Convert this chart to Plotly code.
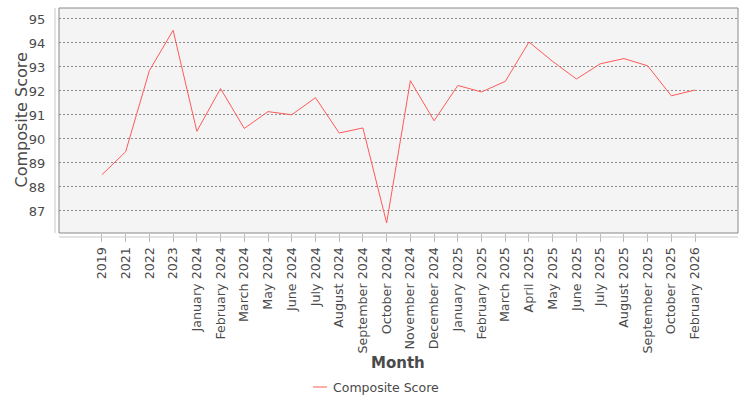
import plotly.graph_objects as go

months = ["2019", "2021", "2022", "2023", "January 2024", "February 2024", "March 2024",
          "May 2024", "June 2024", "July 2024", "August 2024", "September 2024",
          "October 2024", "November 2024", "December 2024", "January 2025",
          "February 2025", "March 2025", "April 2025", "May 2025", "June 2025",
          "July 2025", "August 2025", "September 2025", "October 2025", "February 2026"]
scores = [88.51, 89.47, 92.85, 94.53, 90.32, 92.10, 90.44, 91.14, 91.01, 91.72, 90.25,
          90.46, 86.50, 92.43, 90.76, 92.23, 91.96, 92.40, 94.04, 93.23, 92.50, 93.13,
          93.35, 93.05, 91.80, 92.04]
y_ticks = [87, 88, 89, 90, 91, 92, 93, 94, 95]
series_name = "Composite Score"

FONT = "DejaVu Sans"
W, H = 750, 400
L, R, T, B = 59, 12, 8, 167
pw, ph = W - L - R, H - T - B
LINE_COLOR = "#ff5a5a"
TXT = "#4a4a4a"


def px_x(x):
    return (x - L) / pw


def px_y(y):
    return (T + ph - y) / ph


fig = go.Figure()
fig.add_trace(go.Scatter(
    x=months, y=scores, mode="lines", name=series_name,
    line=dict(color=LINE_COLOR, width=1), showlegend=False,
))

fig.update_layout(
    width=W, height=H,
    margin=dict(l=L, r=R, t=T, b=B, autoexpand=False),
    paper_bgcolor="white", plot_bgcolor="#f4f4f4",
    font=dict(family=FONT, size=12, color=TXT),
    xaxis=dict(type="category", range=[-1.81, len(months) - 1 + 1.81],
               tickangle=-90, ticks="outside", ticklen=8, tickcolor="#bbbbbb",
               showgrid=False, zeroline=False, showline=False, automargin=False,
               tickfont=dict(family=FONT, size=12.7, color=TXT)),
    yaxis=dict(range=[86.083, 95.458], tickvals=y_ticks, ticks="outside",
               ticklen=10, tickcolor="rgba(0,0,0,0)", automargin=False,
               showgrid=True, gridcolor="#8c8c8c", griddash="2px,2px", gridwidth=1,
               zeroline=False, showline=False,
               tickfont=dict(family=FONT, size=13, color=TXT)),
    shapes=[
        dict(type="rect", xref="paper", yref="paper", x0=0, x1=1, y0=0, y1=1,
             line=dict(color="#888888", width=1), layer="above"),
        dict(type="line", xref="paper", yref="paper", x0=-4 / pw, x1=-4 / pw,
             y0=0, y1=1, line=dict(color="#c8c8c8", width=1)),
        dict(type="line", xref="paper", yref="paper", x0=0, x1=1,
             y0=-4 / ph, y1=-4 / ph, line=dict(color="#c8c8c8", width=1)),
        dict(type="line", xref="paper", yref="paper", x0=px_x(313), x1=px_x(327),
             y0=px_y(387), y1=px_y(387), line=dict(color=LINE_COLOR, width=1)),
    ],
    annotations=[
        dict(text="<b>Month</b>", xref="paper", yref="paper", x=px_x(398), y=px_y(363),
             xanchor="center", yanchor="middle", showarrow=False,
             font=dict(family=FONT, size=15, color=TXT)),
        dict(text="Composite Score", xref="paper", yref="paper",
             x=px_x(21), y=0.5, xanchor="center", yanchor="middle",
             textangle=-90, showarrow=False,
             font=dict(family=FONT, size=16, color=TXT)),
        dict(text=series_name, xref="paper", yref="paper",
             x=px_x(331), y=px_y(387), xanchor="left", yanchor="middle",
             showarrow=False, font=dict(family=FONT, size=12.5, color=TXT)),
    ],
)

fig.write_html("out.html")
